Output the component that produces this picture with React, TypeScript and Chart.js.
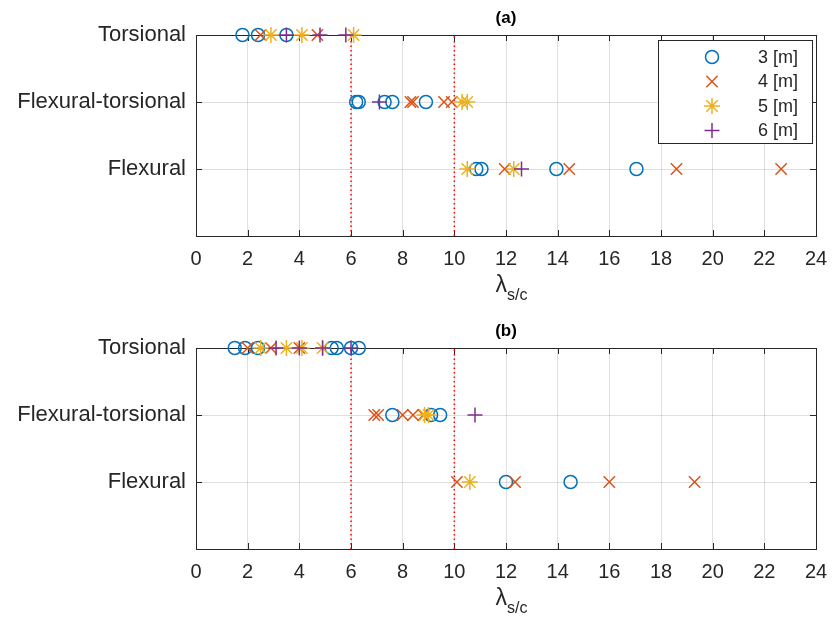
import React, { useEffect, useRef } from "react";
import { Chart, registerables } from "chart.js";
Chart.register(...registerables);

// ---------- data ----------
const rowLabels = ["", "Flexural", "Flexural-torsional", "Torsional"];
const xTickValues = [0, 2, 4, 6, 8, 10, 12, 14, 16, 18, 20, 22, 24];
const seriesNames = ["3 [m]", "4 [m]", "5 [m]", "6 [m]"];
const seriesColors = ["#0072BD", "#D95319", "#EDB120", "#7E2F8E"];
const seriesStyles = ["circle", "crossRot", "star", "cross"];
const limitLines = [6, 10];
const panelTitles = ["(a)", "(b)"];

// panel (a): values per mode [torsional, flexural-torsional, flexural]
const a3m_torsional = [1.8, 2.4, 3.5];
const a3m_flexTors = [6.2, 6.3, 7.3, 7.6, 8.9];
const a3m_flexural = [10.85, 11.05, 13.95, 17.05];
const a4m_torsional = [2.5, 4.7];
const a4m_flexTors = [8.3, 8.4, 9.6, 9.9];
const a4m_flexural = [11.95, 14.45, 18.6, 22.65];
const a5m_torsional = [2.9, 4.1, 6.1];
const a5m_flexTors = [10.3, 10.5];
const a5m_flexural = [10.5, 12.3];
const a6m_torsional = [3.5, 4.8, 5.8];
const a6m_flexTors = [7.1];
const a6m_flexural = [12.6];

// panel (b)
const b3m_torsional = [1.5, 1.9, 2.4, 5.25, 5.45, 6.0, 6.3];
const b3m_flexTors = [7.6, 9.1, 9.45];
const b3m_flexural = [12.0, 14.5];
const b4m_torsional = [2.0, 2.9, 4.0];
const b4m_flexTors = [6.9, 7.05, 8.0, 8.4, 8.8];
const b4m_flexural = [10.1, 12.35, 16.0, 19.3];
const b5m_torsional = [2.5, 3.5, 4.1, 4.9];
const b5m_flexTors = [8.85, 9.0];
const b5m_flexural = [10.6];
const b6m_torsional = [3.1, 4.0, 4.9, 6.0];
const b6m_flexTors = [10.8];
const b6m_flexural: number[] = [];

const panelA = [
  [a3m_torsional, a3m_flexTors, a3m_flexural],
  [a4m_torsional, a4m_flexTors, a4m_flexural],
  [a5m_torsional, a5m_flexTors, a5m_flexural],
  [a6m_torsional, a6m_flexTors, a6m_flexural],
];
const panelB = [
  [b3m_torsional, b3m_flexTors, b3m_flexural],
  [b4m_torsional, b4m_flexTors, b4m_flexural],
  [b5m_torsional, b5m_flexTors, b5m_flexural],
  [b6m_torsional, b6m_flexTors, b6m_flexural],
];
const modeRows = [3, 2, 1]; // y positions of torsional, flexural-torsional, flexural

// ---------- styling ----------
const FONT = "'Liberation Sans', Arial, sans-serif";
const INK = "#262626";
const GRID = "rgba(38,38,38,0.15)";
const markerRadius = [6.5, 8, 8, 7.5];
const W = 832;
const H = 314;

function drawMarker(ctx: CanvasRenderingContext2D, style: string, x: number, y: number, r: number) {
  ctx.beginPath();
  if (style === "circle") {
    ctx.arc(x, y, r, 0, Math.PI * 2);
  } else {
    const d = r * Math.SQRT1_2;
    if (style === "cross" || style === "star") {
      ctx.moveTo(x - r, y); ctx.lineTo(x + r, y);
      ctx.moveTo(x, y - r); ctx.lineTo(x, y + r);
    }
    if (style === "crossRot" || style === "star") {
      ctx.moveTo(x - d, y - d); ctx.lineTo(x + d, y + d);
      ctx.moveTo(x - d, y + d); ctx.lineTo(x + d, y - d);
    }
  }
  ctx.stroke();
}

const panelDecor = {
  id: "panelDecor",
  beforeDatasetsDraw(chart: any) {
    const { ctx, chartArea: a, scales } = chart;
    ctx.save();
    ctx.strokeStyle = INK;
    ctx.lineWidth = 1;
    ctx.strokeRect(Math.round(a.left) + 0.5, Math.round(a.top) + 0.5, Math.round(a.right - a.left), Math.round(a.bottom - a.top));
    const tl = 6;
    ctx.beginPath();
    for (const v of xTickValues) {
      const px = Math.round(scales.x.getPixelForValue(v)) + 0.5;
      ctx.moveTo(px, a.bottom); ctx.lineTo(px, a.bottom - tl);
      ctx.moveTo(px, a.top); ctx.lineTo(px, a.top + tl);
    }
    for (const v of [1, 2]) {
      const py = Math.round(scales.y.getPixelForValue(v)) + 0.5;
      ctx.moveTo(a.left, py); ctx.lineTo(a.left + tl, py);
      ctx.moveTo(a.right, py); ctx.lineTo(a.right - tl, py);
    }
    ctx.stroke();
    ctx.restore();
  },
  afterDraw(chart: any, _args: any, opts: any) {
    const { ctx, chartArea: a } = chart;
    const cx = (a.left + a.right) / 2;
    ctx.save();
    ctx.fillStyle = "#000";
    ctx.font = `bold 17px ${FONT}`;
    ctx.textAlign = "center";
    ctx.textBaseline = "middle";
    ctx.fillText(opts.title, cx, a.top - 17);
    // axis label lambda_{s/c}
    ctx.fillStyle = INK;
    ctx.font = `23px ${FONT}`;
    ctx.textAlign = "right";
    ctx.fillText("λ", cx + 1, a.bottom + 50);
    ctx.font = `16px ${FONT}`;
    ctx.textAlign = "left";
    ctx.fillText("s/c", cx + 1, a.bottom + 60);
    // legend
    if (opts.legend) {
      const lx = 658, ly = 40, lw = 154, lh = 103;
      ctx.fillStyle = "#fff";
      ctx.fillRect(lx, ly, lw, lh);
      ctx.strokeStyle = INK;
      ctx.lineWidth = 1;
      ctx.strokeRect(lx + 0.5, ly + 0.5, lw, lh);
      ctx.font = `18px ${FONT}`;
      ctx.textAlign = "left";
      ctx.textBaseline = "middle";
      seriesNames.forEach((name, i) => {
        const y = ly + 17 + i * 24.5;
        ctx.strokeStyle = seriesColors[i];
        ctx.lineWidth = 1.5;
        drawMarker(ctx, seriesStyles[i], 712, y, markerRadius[i]);
        ctx.fillStyle = INK;
        ctx.fillText(name, 758, y + 1);
      });
    }
    ctx.restore();
  },
};

function buildConfig(panel: number[][][], title: string, legend: boolean, topPad: number): any {
  const datasets: any[] = panel.map((modes, i) => ({
    label: seriesNames[i],
    data: modes.flatMap((vals, m) => vals.map((x) => ({ x, y: modeRows[m] }))),
    pointStyle: seriesStyles[i],
    pointRadius: markerRadius[i],
    pointHoverRadius: markerRadius[i],
    borderColor: seriesColors[i],
    backgroundColor: "rgba(0,0,0,0)",
    pointBorderWidth: 1.5,
    showLine: false,
    clip: false,
    order: 4 - i,
  }));
  limitLines.forEach((v) => {
    datasets.push({
      label: "limit " + v,
      data: [{ x: v, y: 0 }, { x: v, y: 3 }],
      showLine: true,
      borderColor: "#FF0000",
      borderWidth: 1.5,
      borderDash: [1.5, 3],
      pointRadius: 0,
      clip: false,
      order: 20,
    });
  });
  return {
    type: "scatter",
    data: { datasets },
    options: {
      animation: false,
      responsive: false,
      events: [],
      layout: { padding: { top: topPad, right: 16, left: 0, bottom: 0 } },
      plugins: {
        legend: { display: false },
        tooltip: { enabled: false },
        panelDecor: { title, legend },
      },
      scales: {
        x: {
          type: "linear",
          min: 0,
          max: 24,
          afterBuildTicks: (s: any) => { s.ticks = xTickValues.map((v) => ({ value: v })); },
          ticks: { color: INK, font: { family: FONT, size: 20 }, padding: 11, maxRotation: 0, autoSkip: false },
          grid: { color: GRID, drawTicks: false, lineWidth: 1 },
          border: { display: false },
          afterFit: (s: any) => {
            s.height = H - (topPad + 201);
            s.paddingRight = 0;
            s.paddingLeft = 0;
          },
        },
        y: {
          type: "linear",
          min: 0,
          max: 3,
          afterBuildTicks: (s: any) => { s.ticks = [0, 1, 2, 3].map((v) => ({ value: v })); },
          ticks: { color: INK, font: { family: FONT, size: 22 }, padding: 10, callback: (v: any) => rowLabels[v] ?? "" },
          grid: { color: GRID, drawTicks: false, lineWidth: 1 },
          border: { display: false },
          afterFit: (s: any) => { s.width = 196; s.paddingTop = 0; s.paddingBottom = 0; },
        },
      },
    },
    plugins: [panelDecor],
  };
}

function Panel({ panel, title, legend, topPad }: { panel: number[][][]; title: string; legend: boolean; topPad: number }) {
  const ref = useRef<HTMLCanvasElement>(null);
  useEffect(() => {
    if (!ref.current) return;
    const chart = new Chart(ref.current, buildConfig(panel, title, legend, topPad));
    return () => chart.destroy();
  }, []);
  return <canvas ref={ref} width={W} height={H} style={{ display: "block", width: W, height: H }} />;
}

export default function App() {
  return (
    <div style={{ position: "absolute", left: 0, top: 0, width: W, height: 628, background: "#fff" }}>
      <Panel panel={panelA} title={panelTitles[0]} legend={true} topPad={35} />
      <Panel panel={panelB} title={panelTitles[1]} legend={false} topPad={34} />
    </div>
  );
}
